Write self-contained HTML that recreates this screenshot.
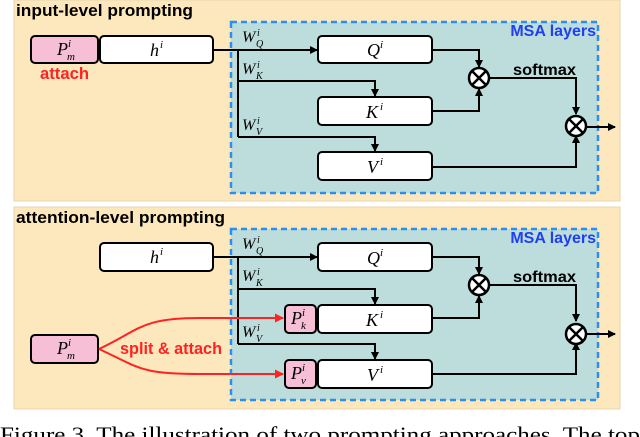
<!DOCTYPE html>
<html><head><meta charset="utf-8"><style>
html,body{margin:0;padding:0;background:#fff;width:640px;height:437px;overflow:hidden}
svg{display:block}
.t{font-family:"Liberation Sans",sans-serif;font-weight:bold}
.m{font-family:"Liberation Serif",serif;font-style:italic}
</style></head><body>
<svg width="640" height="437" viewBox="0 0 640 437" xmlns="http://www.w3.org/2000/svg">
<defs>
<marker id="a" markerWidth="8" markerHeight="8" refX="7" refY="4" orient="auto" markerUnits="userSpaceOnUse"><path d="M0,0 L8,4 L0,8 Z" fill="#000"/></marker>
<marker id="r" markerWidth="9" markerHeight="9" refX="8" refY="4.5" orient="auto" markerUnits="userSpaceOnUse"><path d="M0,0 L9,4.5 L0,9 Z" fill="#f22"/></marker>
<g id="cx"><circle r="10" fill="#fff" stroke="#000" stroke-width="2.5"/><path d="M-7,-7 L7,7 M7,-7 L-7,7" stroke="#000" stroke-width="2.5"/></g>
</defs>
<rect x="14" y="0" width="606" height="201" fill="#fde8bd" stroke="#e8d6b0"/>
<rect x="14" y="207" width="606" height="202" fill="#fde8bd" stroke="#e8d6b0"/>
<text class="t" x="16" y="16" font-size="17" textLength="177" lengthAdjust="spacingAndGlyphs">input-level prompting</text>
<text class="t" x="16" y="223" font-size="17" textLength="209" lengthAdjust="spacingAndGlyphs">attention-level prompting</text>

<!-- TOP -->
<rect x="231" y="22" width="367" height="171" fill="#bcdddb" stroke="#2b8ff2" stroke-width="2.5" stroke-dasharray="6,4"/>
<text class="t" x="596" y="36" font-size="16" fill="#1f3ff0" text-anchor="end">MSA layers</text>
<rect x="31" y="36" width="67" height="27" rx="4" fill="#f7bfd6" stroke="#000" stroke-width="2"/>
<text class="m" x="57" y="55" font-size="18">P</text><text class="m" x="68" y="47" font-size="11">i</text><text class="m" x="67" y="60" font-size="11">m</text>
<rect x="100" y="36" width="113" height="27" rx="4" fill="#fff" stroke="#000" stroke-width="2"/>
<text class="m" x="150" y="56" font-size="18">h</text><text class="m" x="160" y="48" font-size="11">i</text>
<text class="t" x="40" y="79" font-size="16.5" textLength="49" lengthAdjust="spacingAndGlyphs" fill="#f22">attach</text>

<path d="M213,50 H317" stroke="#000" stroke-width="2" fill="none" marker-end="url(#a)"/>
<path d="M238,50 V137" stroke="#000" stroke-width="2" fill="none"/>
<path d="M238,81 H375 V96" stroke="#000" stroke-width="2" fill="none" marker-end="url(#a)"/>
<path d="M238,137 H375 V151" stroke="#000" stroke-width="2" fill="none" marker-end="url(#a)"/>
<g class="m"><text x="242" y="42" font-size="16">W</text><text x="257" y="36" font-size="10">i</text><text x="256" y="47" font-size="10">Q</text></g>
<g class="m"><text x="242" y="74" font-size="16">W</text><text x="257" y="68" font-size="10">i</text><text x="256" y="79" font-size="10">K</text></g>
<g class="m"><text x="242" y="130" font-size="16">W</text><text x="257" y="124" font-size="10">i</text><text x="256" y="135" font-size="10">V</text></g>

<rect x="318" y="36" width="114" height="27" rx="4" fill="#fff" stroke="#000" stroke-width="2"/>
<text class="m" x="367" y="56" font-size="18">Q</text><text class="m" x="380" y="48" font-size="11">i</text>
<rect x="318" y="97" width="114" height="28" rx="4" fill="#fff" stroke="#000" stroke-width="2"/>
<text class="m" x="366" y="118" font-size="18">K</text><text class="m" x="380" y="110" font-size="11">i</text>
<rect x="318" y="152" width="114" height="28" rx="4" fill="#fff" stroke="#000" stroke-width="2"/>
<text class="m" x="367" y="173" font-size="18">V</text><text class="m" x="380" y="165" font-size="11">i</text>

<path d="M432,50 H479 V67" stroke="#000" stroke-width="2" fill="none" marker-end="url(#a)"/>
<path d="M432,111 H479 V89" stroke="#000" stroke-width="2" fill="none" marker-end="url(#a)"/>
<path d="M489,78 H576 V114" stroke="#000" stroke-width="2" fill="none" marker-end="url(#a)"/>
<path d="M432,167 H576 V136" stroke="#000" stroke-width="2" fill="none" marker-end="url(#a)"/>
<path d="M586,127 H615" stroke="#000" stroke-width="2" fill="none" marker-end="url(#a)"/>
<use href="#cx" x="479" y="78"/>
<use href="#cx" x="576" y="126"/>
<text class="t" x="513" y="75" font-size="16" textLength="63" lengthAdjust="spacingAndGlyphs">softmax</text>

<!-- BOTTOM -->
<rect x="231" y="229" width="367" height="171" fill="#bcdddb" stroke="#2b8ff2" stroke-width="2.5" stroke-dasharray="6,4"/>
<text class="t" x="596" y="243" font-size="16" fill="#1f3ff0" text-anchor="end">MSA layers</text>
<rect x="100" y="243" width="113" height="28" rx="4" fill="#fff" stroke="#000" stroke-width="2"/>
<text class="m" x="150" y="263" font-size="18">h</text><text class="m" x="160" y="255" font-size="11">i</text>

<path d="M213,257 H317" stroke="#000" stroke-width="2" fill="none" marker-end="url(#a)"/>
<path d="M238,257 V344" stroke="#000" stroke-width="2" fill="none"/>
<path d="M238,289 H375 V304" stroke="#000" stroke-width="2" fill="none" marker-end="url(#a)"/>
<path d="M238,344 H375 V359" stroke="#000" stroke-width="2" fill="none" marker-end="url(#a)"/>
<g class="m"><text x="242" y="249" font-size="16">W</text><text x="257" y="243" font-size="10">i</text><text x="256" y="254" font-size="10">Q</text></g>
<g class="m"><text x="242" y="281" font-size="16">W</text><text x="257" y="275" font-size="10">i</text><text x="256" y="286" font-size="10">K</text></g>
<g class="m"><text x="242" y="337" font-size="16">W</text><text x="257" y="331" font-size="10">i</text><text x="256" y="342" font-size="10">V</text></g>

<rect x="318" y="243" width="114" height="28" rx="4" fill="#fff" stroke="#000" stroke-width="2"/>
<text class="m" x="367" y="264" font-size="18">Q</text><text class="m" x="380" y="256" font-size="11">i</text>
<rect x="318" y="305" width="114" height="28" rx="4" fill="#fff" stroke="#000" stroke-width="2"/>
<text class="m" x="366" y="326" font-size="18">K</text><text class="m" x="380" y="318" font-size="11">i</text>
<rect x="318" y="360" width="114" height="28" rx="4" fill="#fff" stroke="#000" stroke-width="2"/>
<text class="m" x="367" y="381" font-size="18">V</text><text class="m" x="380" y="373" font-size="11">i</text>
<rect x="285" y="305" width="31" height="28" rx="4" fill="#f7bfd6" stroke="#000" stroke-width="2"/>
<text class="m" x="291" y="324" font-size="18">P</text><text class="m" x="302" y="316" font-size="11">i</text><text class="m" x="301" y="329" font-size="11">k</text>
<rect x="285" y="360" width="31" height="28" rx="4" fill="#f7bfd6" stroke="#000" stroke-width="2"/>
<text class="m" x="291" y="379" font-size="18">P</text><text class="m" x="302" y="371" font-size="11">i</text><text class="m" x="301" y="384" font-size="11">v</text>

<rect x="31" y="335" width="67" height="28" rx="4" fill="#f7bfd6" stroke="#000" stroke-width="2"/>
<text class="m" x="57" y="354" font-size="18">P</text><text class="m" x="68" y="346" font-size="11">i</text><text class="m" x="67" y="359" font-size="11">m</text>
<path d="M99,349 C140,330 140,318 200,318 L283,318" stroke="#f22" stroke-width="2" fill="none" marker-end="url(#r)"/>
<path d="M99,349 C140,368 140,374 200,374 L283,374" stroke="#f22" stroke-width="2" fill="none" marker-end="url(#r)"/>
<text class="t" x="120" y="354" font-size="16.5" textLength="102" lengthAdjust="spacingAndGlyphs" fill="#f22">split &amp; attach</text>

<path d="M432,257 H479 V274" stroke="#000" stroke-width="2" fill="none" marker-end="url(#a)"/>
<path d="M432,318 H479 V296" stroke="#000" stroke-width="2" fill="none" marker-end="url(#a)"/>
<path d="M489,285 H576 V321" stroke="#000" stroke-width="2" fill="none" marker-end="url(#a)"/>
<path d="M432,374 H576 V343" stroke="#000" stroke-width="2" fill="none" marker-end="url(#a)"/>
<path d="M586,334 H615" stroke="#000" stroke-width="2" fill="none" marker-end="url(#a)"/>
<use href="#cx" x="479" y="285"/>
<use href="#cx" x="576" y="334"/>
<text class="t" x="513" y="282" font-size="16" textLength="63" lengthAdjust="spacingAndGlyphs">softmax</text>

<text x="0" y="442" font-family="'Liberation Serif',serif" font-size="22" textLength="640" lengthAdjust="spacingAndGlyphs">Figure 3. The illustration of two prompting approaches. The top</text>
</svg>
</body></html>
